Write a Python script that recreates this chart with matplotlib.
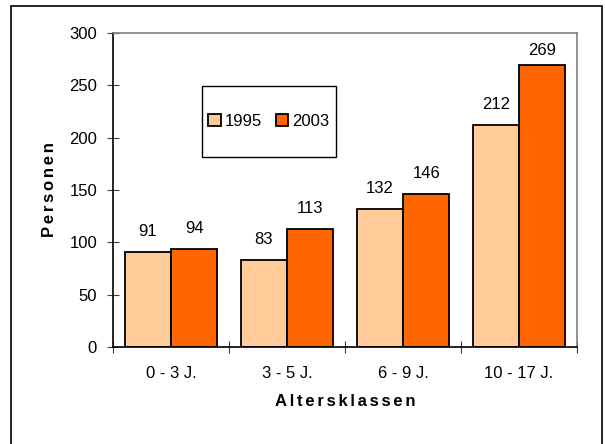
import numpy as np
import matplotlib.pyplot as plt
from matplotlib.patches import Rectangle, Patch

plt.rcParams['font.family'] = ['Liberation Sans', 'DejaVu Sans']
plt.rcParams['font.size'] = 12

# age classes and number of persons per year
klassen = ['0 - 3 J.', '3 - 5 J.', '6 - 9 J.', '10 - 17 J.']
werte_1995 = [91, 83, 132, 212]
werte_2003 = [94, 113, 146, 269]
jahre = ['1995', '2003']
farben = ['#FFCC99', '#FF6600']

W, H = 605, 444
fig = plt.figure(figsize=(W / 100, H / 100), dpi=100)
ax = fig.add_axes([113 / W, 1 - 347 / H, (577 - 113) / W, (347 - 33) / H])

# outer frame around the whole chart (bottom edge runs off the page)
fig.patches.append(Rectangle((11 / W, -0.05), (602 - 11) / W, 1 - 6 / H + 0.05,
                             transform=fig.transFigure, fill=False,
                             edgecolor='black', linewidth=1.2))

x = np.arange(len(klassen))
bw = 0.4
b1 = ax.bar(x - bw / 2, werte_1995, bw, color=farben[0], edgecolor='black', linewidth=1.3)
b2 = ax.bar(x + bw / 2, werte_2003, bw, color=farben[1], edgecolor='black', linewidth=1.3)

# value labels above the bars, pulled down a bit near the top
for bars, werte in [(b1, werte_1995), (b2, werte_2003)]:
    for rect, v in zip(bars, werte):
        off = 10 if v > 260 else 16
        ax.annotate(str(v), (rect.get_x() + rect.get_width() / 2, v),
                    xytext=(0, off * 0.72), textcoords='offset points',
                    ha='center', va='baseline', fontsize=12)

ax.set_xlim(-0.5, len(klassen) - 0.5)
ax.set_ylim(0, 300)
ax.set_yticks(np.arange(0, 301, 50))

ax.set_xticks(x)
ax.set_xticklabels(klassen)
ax.set_xticks(np.arange(-0.5, len(klassen), 1), minor=True)
ax.tick_params(axis='x', which='major', length=0, pad=14)
ax.tick_params(axis='x', which='minor', direction='inout', length=9, width=0.8, color='#404040')
ax.tick_params(axis='y', which='major', direction='inout', length=9, width=0.8, color='#404040', pad=7)

for s in ['top', 'right']:
    ax.spines[s].set_color('#808080')
    ax.spines[s].set_linewidth(1.2)
for s in ['left', 'bottom']:
    ax.spines[s].set_color('black')
    ax.spines[s].set_linewidth(1.2)

sp = '\u2006'
ax.set_xlabel(sp.join('Altersklassen'), fontweight='bold', fontsize=12, labelpad=9)
ax.set_ylabel(sp.join('Personen'), fontweight='bold', fontsize=12, labelpad=9)

# legend with its own frame
fig.patches.append(Rectangle((202 / W, 1 - 157 / H), (336 - 202) / W, (157 - 86) / H,
                             transform=fig.transFigure, fill=False,
                             edgecolor='black', linewidth=1.0))
handles = [Patch(facecolor=c, edgecolor='black', linewidth=1.3) for c in farben]
fig.legend(handles, jahre, loc='center', bbox_to_anchor=(269 / W, 1 - 121 / H),
           ncol=2, frameon=False, handlelength=0.75, handleheight=0.75,
           handletextpad=0.25, columnspacing=0.8, fontsize=12)

plt.savefig('out.png', dpi=100)
